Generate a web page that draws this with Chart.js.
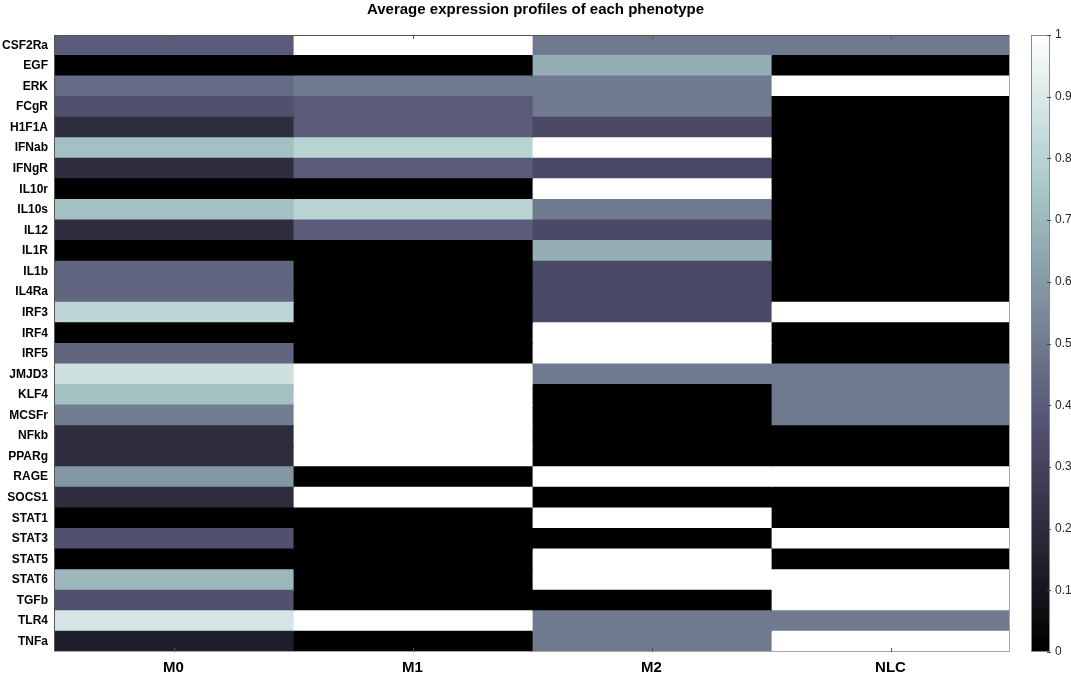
<!DOCTYPE html>
<html>
<head>
<meta charset="utf-8">
<script src="https://cdn.jsdelivr.net/npm/chart.js@4"></script>
<style>
  html, body { margin: 0; padding: 0; background: #ffffff; }
  #wrap { width: 1071px; height: 676px; position: relative; }
</style>
</head>
<body>
<div id="wrap"><canvas id="c" width="1071" height="676"></canvas></div>
<script>
const titleText = 'Average expression profiles of each phenotype';
const genes = ['CSF2Ra','EGF','ERK','FCgR','H1F1A','IFNab','IFNgR','IL10r','IL10s','IL12','IL1R','IL1b','IL4Ra','IRF3','IRF4','IRF5','JMJD3','KLF4','MCSFr','NFkb','PPARg','RAGE','SOCS1','STAT1','STAT3','STAT5','STAT6','TGFb','TLR4','TNFa'];
const phenotypes = ['M0','M1','M2','NLC'];
const m0Values  = [0.40,0,0.45,0.36,0.20,0.73,0.20,0,0.73,0.20,0,0.43,0.43,0.81,0,0.43,0.86,0.73,0.51,0.20,0.20,0.59,0.20,0,0.36,0,0.70,0.36,0.88,0.14];
const m1Values  = [1,0,0.5,0.4,0.4,0.8,0.4,0,0.8,0.4,0,0,0,0,0,0,1,1,1,1,1,0,1,0,0,0,0,0,1,0];
const m2Values  = [0.5,0.667,0.5,0.5,0.333,1,0.333,1,0.5,0.333,0.667,0.333,0.333,0.333,1,1,0.5,0,0,0,0,1,0,1,0,1,1,0,0.5,0.5];
const nlcValues = [0.5,0,1,0,0,0,0,0,0,0,0,0,0,1,0,0,0.5,0.5,0.5,0,0,1,0,0,1,0,1,1,0.5,1];
const colorbarTicks = [0,0.1,0.2,0.3,0.4,0.5,0.6,0.7,0.8,0.9,1];

const seriesValues = [m0Values, m1Values, m2Values, nlcValues];
const FONT = '"Liberation Sans", Arial, sans-serif';

// MATLAB "bone" colormap
function bone(v) {
  v = Math.max(0, Math.min(1, v));
  const hr = Math.min(1, v / 0.375);
  const hg = Math.min(1, Math.max(0, (v - 0.375) / 0.375));
  const hb = Math.min(1, Math.max(0, (v - 0.75) / 0.25));
  const r = (7 * v + hb) / 8, g = (7 * v + hg) / 8, b = (7 * v + hr) / 8;
  return `rgb(${Math.round(r*255)},${Math.round(g*255)},${Math.round(b*255)})`;
}

const decor = {
  id: 'decor',
  afterDraw(chart) {
    const ctx = chart.ctx, a = chart.chartArea;
    const xs = chart.scales.x, cb = chart.scales.cb;
    ctx.save();
    // axes box
    ctx.lineWidth = 1;
    ctx.strokeStyle = '#555555';
    ctx.beginPath();
    ctx.moveTo(a.left + 0.5, a.bottom); ctx.lineTo(a.left + 0.5, a.top + 0.5); ctx.lineTo(a.right, a.top + 0.5);
    ctx.stroke();
    ctx.strokeStyle = '#a8a8a8';
    ctx.beginPath();
    ctx.moveTo(a.left, a.bottom - 0.5); ctx.lineTo(a.right - 0.5, a.bottom - 0.5); ctx.lineTo(a.right - 0.5, a.top);
    ctx.stroke();
    // x ticks (top and bottom)
    ctx.strokeStyle = '#555555';
    xs.ticks.forEach(t => {
      const px = Math.round(xs.getPixelForValue(t.value)) + 0.5;
      ctx.beginPath();
      ctx.moveTo(px, a.top); ctx.lineTo(px, a.top + 4);
      ctx.moveTo(px, a.bottom); ctx.lineTo(px, a.bottom - 4);
      ctx.stroke();
    });
    // colorbar
    const x0 = 1031, x1 = 1050;
    const yTop = cb.getPixelForValue(1), yBot = cb.getPixelForValue(0);
    const grad = ctx.createLinearGradient(0, yBot, 0, yTop);
    for (let i = 0; i <= 64; i++) grad.addColorStop(i / 64, bone(i / 64));
    ctx.fillStyle = grad;
    ctx.fillRect(x0, yTop, x1 - x0, yBot - yTop);
    ctx.strokeStyle = '#8a8a8a';
    ctx.strokeRect(x0 + 0.5, yTop + 0.5, x1 - x0 - 1, yBot - yTop - 1);
    ctx.strokeStyle = '#444444';
    colorbarTicks.forEach(v => {
      const py = Math.round(cb.getPixelForValue(v)) + 0.5;
      ctx.beginPath();
      ctx.moveTo(x1 - 3, py); ctx.lineTo(x1 + 1, py);
      ctx.stroke();
    });
    ctx.restore();
  }
};

new Chart(document.getElementById('c'), {
  type: 'bar',
  data: {
    labels: genes,
    datasets: phenotypes.map((p, j) => ({
      label: p,
      data: genes.map(() => 1),
      backgroundColor: seriesValues[j].map(bone),
      borderWidth: 0,
      inflateAmount: 0.6,
      barPercentage: 1,
      categoryPercentage: 1,
      stack: 'heat'
    }))
  },
  options: {
    indexAxis: 'y',
    responsive: false,
    animation: false,
    layout: { padding: 0 },
    plugins: {
      legend: { display: false },
      tooltip: { enabled: false },
      title: {
        display: true,
        text: titleText,
        color: '#000000',
        font: { family: FONT, size: 15, weight: 'bold' },
        padding: { top: 1, bottom: 16 }
      }
    },
    scales: {
      x: {
        type: 'linear',
        stacked: true,
        min: 0,
        max: phenotypes.length,
        offset: false,
        position: 'bottom',
        afterBuildTicks(scale) {
          scale.ticks = phenotypes.map((p, i) => ({ value: i + 0.5 }));
        },
        afterFit(scale) { scale.height = 24; },
        grid: { display: false, drawTicks: false },
        border: { display: false },
        ticks: {
          autoSkip: false,
          maxRotation: 0,
          padding: 7,
          color: '#000000',
          font: { family: FONT, size: 15, weight: 'bold' },
          callback: (v) => phenotypes[Math.floor(v)]
        }
      },
      y: {
        type: 'category',
        stacked: true,
        position: 'left',
        afterFit(scale) { scale.width = 54; },
        grid: { display: false, drawTicks: false },
        border: { display: false },
        ticks: {
          autoSkip: false,
          padding: 6,
          color: '#000000',
          font: { family: FONT, size: 12, weight: 'bold' }
        }
      },
      cb: {
        type: 'linear',
        position: 'right',
        min: 0,
        max: 1,
        offset: false,
        afterBuildTicks(scale) {
          scale.ticks = colorbarTicks.map(v => ({ value: v }));
        },
        afterFit(scale) { scale.width = 61; },
        grid: { display: true, offset: false, drawOnChartArea: false, drawTicks: true, tickLength: 45, color: 'rgba(0,0,0,0)' },
        border: { display: false },
        ticks: {
          padding: 0,
          color: '#262626',
          font: { family: FONT, size: 12 },
          callback: (v) => String(Math.round(v * 10) / 10)
        }
      }
    }
  },
  plugins: [decor]
});
</script>
</body>
</html>
